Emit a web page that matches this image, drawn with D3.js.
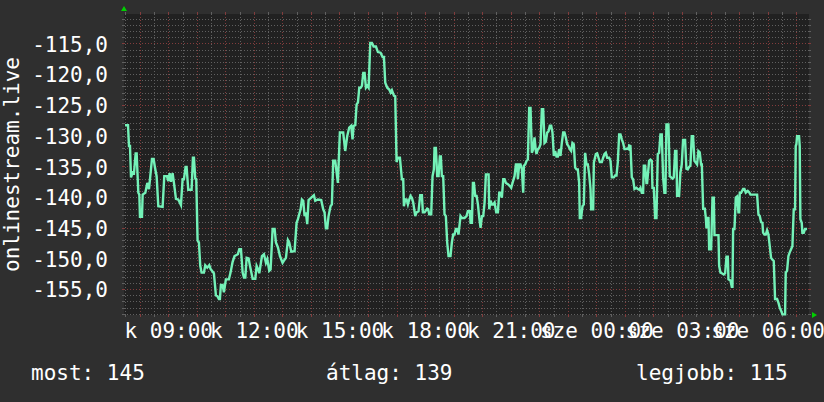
<!DOCTYPE html>
<html>
<head>
<meta charset="utf-8">
<script src="https://cdn.jsdelivr.net/npm/d3@7/dist/d3.min.js"></script>
<style>
  html, body { margin: 0; padding: 0; background: #2f2f2f; }
  svg { display: block; }
  text { font-family: "DejaVu Sans Mono", monospace; fill: #ffffff; }
</style>
</head>
<body>
<svg id="chart" width="824" height="402"></svg>
<script>
// ---------------- data ----------------
const windowStart = "2024-01-09T07:27:00";   // kedd (Tuesday)
const windowHours = 24;
const yAxisTitle = "onlinestream.live";
const dayAbbr = ["v", "h", "k", "sze", "cs", "p", "szo"];
const yTickValues = [-155, -150, -145, -140, -135, -130, -125, -120, -115];
const yDomain = [-159.2, -110.2];
const legendLabels = ["most:", "átlag:", "legjobb:"];
const legendValues = [145, 139, 115];

// [minutes after window start, value]
const readings = [
  [2.1,-128.3],[8.4,-128.3],[10.5,-131.7],[12.6,-131.7],[14.7,-136.8],[18.2,-136.0],[21.0,-136.1],[24.5,-132.9],[26.6,-132.9],[30.1,-139.3],
  [32.2,-139.6],[33.6,-143.2],[37.8,-143.2],[39.2,-139.6],[44.8,-139.3],[49.0,-137.7],[52.5,-138.7],[53.9,-137.7],[58.8,-133.8],[62.3,-133.8],
  [65.1,-135.2],[68.6,-136.6],[72.1,-141.5],[81.2,-141.6],[84.7,-136.6],[90.3,-136.6],[93.1,-137.4],[95.9,-136.1],[98.7,-137.5],[102.2,-136.1],
  [105.0,-137.7],[109.2,-140.3],[114.1,-140.4],[119.7,-141.3],[123.2,-137.1],[126.0,-137.1],[129.5,-135.1],[131.6,-135.1],[135.1,-138.8],[142.1,-138.8],
  [144.9,-133.6],[147.0,-133.6],[149.8,-137.0],[151.9,-137.1],[154.7,-147.1],[157.5,-147.4],[160.3,-151.2],[163.1,-152.3],[168.0,-152.3],[170.8,-151.1],
  [175.0,-151.5],[179.2,-151.1],[182.0,-151.7],[189.0,-152.4],[193.2,-156.0],[196.0,-156.1],[199.5,-156.6],[201.6,-156.6],[203.7,-154.3],[207.2,-154.3],
  [210.0,-155.5],[214.2,-153.4],[220.5,-153.4],[224.0,-152.3],[228.2,-150.6],[232.4,-149.6],[239.4,-149.3],
  [242.4,-148.5],[245.9,-148.5],[249.4,-152.3],[252.2,-153.1],[255.0,-153.1],[257.8,-149.9],[262.0,-150.0],[264.8,-151.2],[270.4,-153.3],[276.0,-153.3],
  [278.8,-151.2],[281.6,-151.7],[284.4,-152.4],[290.0,-149.6],[294.2,-149.3],[298.4,-150.7],[301.2,-150.1],[305.4,-152.0],[308.2,-151.8],[312.4,-145.2],
  [316.6,-145.2],[319.4,-147.4],[323.6,-148.2],[327.8,-149.6],[333.4,-150.7],[337.6,-150.2],[340.4,-149.9],[344.6,-147.0],[347.4,-147.4],[351.6,-148.9],
  [358.6,-148.8],[362.8,-144.2],[365.6,-143.6],[371.2,-142.0],[374.0,-140.4],[376.8,-140.6],[379.6,-143.1],[382.4,-142.5],[385.2,-144.4],[388.0,-140.5],
  [393.6,-140.1],[399.2,-139.7],[402.0,-140.6],[407.6,-140.4],[414.6,-140.5],[418.8,-142.0],[421.6,-142.5],[424.4,-145.1],[427.2,-145.1],[430.0,-143.1],
  [434.2,-141.5],[437.0,-141.2],[439.8,-134.1],[444.0,-134.1],[449.6,-137.7],[453.8,-129.5],[460.8,-129.5],[465.0,-132.5],[469.2,-130.1],[473.4,-128.7],
  [477.6,-128.4],[480.4,-130.6],
  [482.7,-128.4],[486.2,-128.3],[489.0,-124.9],[491.8,-124.6],[494.6,-122.2],[497.4,-122.2],[500.2,-121.9],[503.0,-119.8],[505.8,-119.8],[508.6,-122.2],
  [511.4,-121.9],[514.2,-122.2],[517.7,-114.9],[521.2,-114.9],[524.7,-115.5],[529.6,-115.5],[533.8,-116.4],[539.4,-116.5],[543.6,-117.2],[546.4,-117.2],
  [549.2,-121.4],[553.4,-122.2],[557.6,-122.5],[560.4,-123.0],[563.2,-122.6],[567.4,-123.5],[570.2,-123.6],[573.0,-134.3],[575.8,-133.6],[580.0,-133.6],
  [584.2,-137.1],[587.0,-137.1],[588.4,-141.5],[591.2,-140.4],[594.0,-140.4],[596.8,-141.2],[599.6,-140.4],[602.4,-139.8],[605.2,-140.1],[608.0,-140.9],
  [612.2,-143.1],[615.0,-142.5],[619.2,-142.3],[622.7,-139.7],[626.2,-139.7],[628.3,-142.5],[631.8,-142.5],[637.4,-141.9],[639.5,-142.0],[641.6,-142.8],
  [645.8,-142.8],[648.6,-136.6],[651.4,-135.5],[652.8,-132.0],[655.6,-132.0],[658.4,-136.6],[661.2,-136.6],[664.0,-133.4],[666.1,-133.4],[668.2,-136.6],
  [671.0,-136.6],[673.8,-142.8],[676.6,-143.1],[679.4,-147.4],[682.2,-149.6],[686.4,-149.6],[689.2,-147.4],[692.0,-146.1],[694.8,-146.1],[697.6,-145.2],
  [700.4,-145.2],[703.2,-146.1],[707.4,-143.1],[710.2,-143.4],[715.8,-143.4],[720.0,-143.1],[722.8,-142.3],[727.0,-142.3],
  [728.6,-144.2],[731.4,-144.2],[733.5,-137.7],[735.6,-137.7],[738.4,-139.8],[741.2,-139.8],[744.0,-141.2],[746.8,-143.4],[749.6,-145.0],[752.4,-143.1],
  [755.2,-143.1],[758.0,-140.9],[760.8,-136.3],[766.4,-136.3],[767.8,-142.0],[770.6,-140.6],[773.4,-141.2],[776.2,-141.2],[779.0,-140.9],[782.5,-142.5],
  [786.0,-142.5],[788.8,-139.3],[791.6,-139.3],[794.4,-140.1],[797.2,-137.1],[800.0,-137.1],[802.8,-137.7],[807.0,-137.9],[811.2,-138.2],[814.0,-138.5],
  [816.8,-137.7],[821.0,-136.6],[823.8,-134.7],[826.6,-134.7],[828.0,-137.1],[830.8,-134.7],[833.6,-134.7],[836.4,-135.5],[839.2,-139.3],[840.6,-134.9],
  [843.4,-134.7],[846.2,-134.1],[849.0,-133.9],[851.8,-125.5],[854.6,-125.5],[857.4,-132.8],[860.2,-132.2],[863.0,-130.3],[865.8,-132.5],[867.2,-133.0],
  [870.0,-132.2],[872.8,-132.0],[875.6,-131.4],[878.4,-125.7],[881.2,-125.7],[884.0,-131.2],[886.8,-131.0],[889.6,-129.5],[892.4,-129.3],[895.2,-128.4],
  [898.0,-128.4],[900.8,-129.5],[903.6,-133.3],[906.4,-132.5],[909.2,-133.4],[912.0,-133.4],[914.8,-132.2],[917.6,-133.3],[920.4,-131.2],[923.2,-129.5],
  [926.0,-129.5],[928.8,-130.3],[931.6,-131.4],[934.4,-131.7],[937.2,-132.2],[940.0,-132.5],[942.8,-131.2],[945.6,-131.4],[948.4,-135.2],[951.2,-135.5],
  [954.0,-135.5],[956.8,-137.7],[958.2,-143.4],[961.0,-143.4],[963.8,-141.5],[966.6,-141.2],[969.4,-132.8],
  [972.3,-134.7],[975.1,-134.7],[977.9,-136.3],[980.7,-138.7],[982.1,-142.0],[986.3,-142.0],[987.7,-134.4],[991.9,-133.0],[994.7,-132.9],[997.5,-133.6],
  [1000.3,-134.3],[1004.5,-134.3],[1007.3,-133.6],[1010.1,-133.0],[1012.9,-132.8],[1015.7,-133.6],[1019.9,-133.6],[1022.7,-134.1],[1025.5,-136.8],[1029.7,-136.8],
  [1032.5,-136.5],[1035.3,-136.5],[1038.1,-134.3],[1040.9,-129.8],[1043.7,-129.8],[1046.5,-130.6],[1049.3,-131.2],[1052.1,-132.2],[1054.9,-132.2],[1057.7,-132.1],
  [1060.5,-132.2],[1061.9,-131.6],[1064.7,-131.7],[1067.5,-136.8],[1070.3,-137.1],[1073.1,-138.7],[1077.3,-138.5],[1080.1,-138.7],[1082.9,-138.8],[1085.7,-138.5],
  [1088.5,-139.3],[1091.3,-139.3],[1092.7,-134.9],[1095.5,-134.9],[1098.3,-137.7],[1099.7,-137.7],[1103.9,-134.1],[1106.7,-133.9],[1109.5,-134.1],[1110.9,-138.5],
  [1113.7,-138.5],[1116.5,-143.4],[1119.3,-143.4],[1122.1,-133.0],[1124.9,-132.8],[1127.7,-129.8],[1130.5,-129.8],[1133.3,-136.8],[1136.1,-139.3],[1138.2,-139.3],
  [1140.3,-128.2],[1144.5,-128.2],[1147.3,-136.6],[1150.1,-136.8],[1152.9,-137.0],[1155.7,-136.8],[1158.5,-132.5],[1161.3,-132.5],[1162.7,-139.8],[1166.9,-139.8],
  [1169.7,-136.0],[1172.5,-134.7],[1175.3,-130.7],[1179.5,-130.7],[1182.3,-135.4],[1185.1,-135.5],[1187.9,-135.1],[1190.7,-134.9],[1193.5,-130.1],[1196.3,-130.1],
  [1199.1,-134.1],[1201.9,-134.4],[1204.7,-134.7],[1207.5,-132.5],[1210.3,-132.7],[1213.1,-134.7],
  [1214.7,-134.7],[1217.5,-141.9],[1221.0,-141.9],[1223.1,-143.4],[1224.5,-145.1],[1226.6,-143.4],[1228.7,-143.4],[1230.1,-148.5],[1234.3,-148.5],[1237.1,-140.1],
  [1239.9,-140.1],[1241.3,-146.2],[1249.7,-146.2],[1251.1,-151.2],[1253.9,-152.3],[1256.7,-152.4],[1260.9,-152.6],[1263.7,-152.4],[1266.5,-149.7],[1269.3,-149.7],
  [1270.7,-153.4],[1274.9,-153.6],[1277.7,-154.6],[1279.1,-154.6],[1280.5,-145.2],[1283.3,-145.2],[1286.1,-140.1],[1288.9,-139.9],[1291.7,-142.5],[1293.1,-142.5],
  [1294.5,-139.3],[1297.3,-139.3],[1301.5,-138.7],[1304.3,-138.7],[1307.1,-139.3],[1311.3,-139.0],[1314.1,-139.2],[1316.9,-139.6],[1330.9,-139.6],[1333.7,-142.8],
  [1336.5,-143.1],[1339.3,-144.1],[1342.1,-144.2],[1343.5,-145.8],[1346.3,-146.1],[1349.1,-146.1],[1351.9,-145.4],[1354.7,-146.1],[1357.5,-148.0],[1360.3,-149.9],
  [1363.1,-150.2],[1365.9,-150.4],[1368.7,-156.6],[1372.9,-156.6],[1375.7,-157.2],[1378.5,-158.0],[1381.3,-158.5],[1384.1,-159.1],[1389.7,-159.1],[1391.1,-152.3],
  [1393.9,-152.0],[1396.7,-149.6],[1399.5,-149.0],[1402.3,-148.5],[1405.1,-148.0],[1407.9,-142.0],[1410.7,-142.0],[1412.1,-131.7],[1413.5,-131.4],[1414.9,-130.1],
  [1419.1,-130.1],[1420.5,-131.7],[1421.9,-143.6],[1424.7,-144.2],[1426.1,-145.8],[1428.9,-145.8],[1431.7,-145.2],[1435.9,-145.2]
];

// ---------------- layout ----------------
const W = 824, H = 402;
const plot = { left: 124, right: 809, top: 14, bottom: 315 };
const FONT = "21px";

const svg = d3.select("#chart");
const t0 = new Date(windowStart);
const t1 = d3.timeHour.offset(t0, windowHours);

const x = d3.scaleTime().domain([t0, t1]).range([plot.left, plot.right]);
const y = d3.scaleLinear().domain(yDomain).range([plot.bottom, plot.top]);

// backgrounds
svg.append("rect").attr("width", W).attr("height", H).attr("fill", "#2f2f2f");
svg.append("rect")
  .attr("x", plot.left).attr("y", plot.top)
  .attr("width", plot.right - plot.left).attr("height", plot.bottom - plot.top)
  .attr("fill", "#212121");

const minorColor = "#606060";
const majorColor = "#823c3c";

// horizontal grid
const yMinor = d3.range(Math.ceil(yDomain[0]), Math.floor(yDomain[1]) + 1);
const gGrid = svg.append("g").attr("shape-rendering", "crispEdges");
yMinor.forEach(v => {
  const major = ((v + 115) % 10 === 0);
  const yy = Math.round(y(v)) + 0.5;
  gGrid.append("line")
    .attr("x1", plot.left).attr("x2", plot.right)
    .attr("y1", yy).attr("y2", yy)
    .attr("stroke", major ? majorColor : minorColor)
    .attr("stroke-width", 1)
    .attr("stroke-dasharray", "1,2");
  gGrid.append("line").attr("x1", plot.left - 2).attr("x2", plot.left + 1)
    .attr("y1", yy).attr("y2", yy).attr("stroke", major ? majorColor : minorColor);
  gGrid.append("line").attr("x1", plot.right - 1).attr("x2", plot.right + 2)
    .attr("y1", yy).attr("y2", yy).attr("stroke", major ? majorColor : minorColor);
});

// vertical grid
const xMinor = d3.timeMinute.every(30).range(t0, t1);
xMinor.forEach(d => {
  const major = d.getMinutes() === 0;
  const xx = Math.round(x(d)) + 0.5;
  gGrid.append("line")
    .attr("x1", xx).attr("x2", xx)
    .attr("y1", plot.top).attr("y2", plot.bottom)
    .attr("stroke", major ? majorColor : minorColor)
    .attr("stroke-dasharray", "1,2");
  gGrid.append("line").attr("x1", xx).attr("x2", xx)
    .attr("y1", plot.top - 2).attr("y2", plot.top + 1).attr("stroke", major ? majorColor : minorColor);
  gGrid.append("line").attr("x1", xx).attr("x2", xx)
    .attr("y1", plot.bottom - 1).attr("y2", plot.bottom + 2).attr("stroke", major ? majorColor : minorColor);
});

// data line
const line = d3.line()
  .x(d => x(d3.timeMillisecond.offset(t0, Math.round(d[0] * 60000))))
  .y(d => y(d[1]));
svg.append("path")
  .datum(readings)
  .attr("fill", "none")
  .attr("stroke", "#74f2b8")
  .attr("stroke-width", 2.4)
  .attr("stroke-linejoin", "miter")
  .attr("d", line);

// y axis labels
const fmtY = v => v.toFixed(1).replace(".", ",");
const yAxis = d3.axisLeft(y).tickValues(yTickValues).tickFormat(fmtY).tickSize(0).tickPadding(0);
const gy = svg.append("g").attr("transform", `translate(${plot.left - 16},0)`).call(yAxis);
gy.select(".domain").remove();
gy.selectAll("text")
  .attr("x", 0).attr("dy", "0.37em")
  .style("font-family", "'DejaVu Sans Mono', monospace")
  .style("font-size", FONT).attr("fill", "#ffffff");

// x axis labels (every 3 hours)
const fmtX = d => dayAbbr[d.getDay()] + " " + d3.timeFormat("%H:%M")(d);
const xAxis = d3.axisBottom(x).ticks(d3.timeHour.every(3)).tickFormat(fmtX).tickSize(0).tickPadding(0);
const gx = svg.append("g").attr("transform", `translate(0,${plot.bottom})`).call(xAxis);
gx.select(".domain").remove();
gx.selectAll("text")
  .attr("y", 23).attr("dy", 0)
  .style("font-family", "'DejaVu Sans Mono', monospace")
  .style("font-size", FONT).attr("fill", "#ffffff");

// arrows
svg.append("path")
  .attr("d", `M${plot.left - 3},${plot.top - 3} L${plot.left + 3},${plot.top - 3} L${plot.left},${plot.top - 8} Z`)
  .attr("fill", "#00d000");
svg.append("path")
  .attr("d", `M${plot.right + 3},${plot.bottom - 3} L${plot.right + 3},${plot.bottom + 3} L${plot.right + 8},${plot.bottom} Z`)
  .attr("fill", "#00d000");

// y axis title
svg.append("text")
  .attr("transform", `translate(19,${(plot.top + plot.bottom) / 2}) rotate(-90)`)
  .attr("text-anchor", "middle")
  .style("font-size", FONT)
  .text(yAxisTitle);

// legend
const legendX = [31, 326, 636];
legendLabels.forEach((lab, i) => {
  svg.append("text")
    .attr("x", legendX[i]).attr("y", 380)
    .style("font-size", FONT)
    .text(lab + " " + legendValues[i]);
});
</script>
</body>
</html>
